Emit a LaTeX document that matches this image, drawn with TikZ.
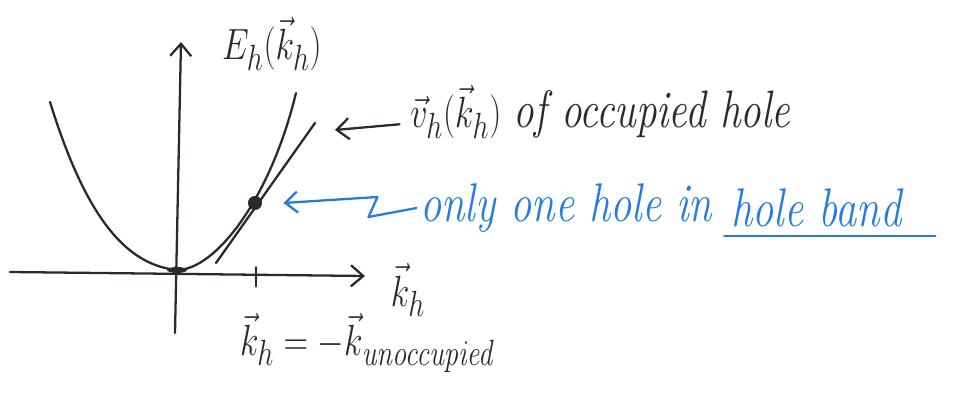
\documentclass[tikz,border=0pt]{standalone}
\usetikzlibrary{positioning,arrows.meta}
\definecolor{penblack}{RGB}{38,44,38}
\definecolor{penblue}{RGB}{35,125,225}
\tikzset{
  pen/.style={line width=1.3pt,draw=penblack,line cap=round,line join=round},
  bluepen/.style={line width=1.3pt,draw=penblue,line cap=round,line join=round},
  barb/.style={-{Straight Barb[length=7pt,width=12pt]}},
  label/.style={text=penblack,inner sep=0pt,xscale=.78,font=\fontsize{30}{33}\selectfont},
  bluelabel/.style={label,text=penblue,xscale=1.0,font=\fontsize{31}{34}\selectfont},
  dot/.style={circle,fill=penblack,inner sep=0pt,minimum size=8pt}
}
\begin{document}
\begin{tikzpicture}
  [x=0.02cm,y=-0.02cm]
\useasboundingbox (0,0) rectangle (958,404);
  % axes
  \coordinate (xl) at (10,272);
  \coordinate (xr) at (365,276);
  \coordinate (yb) at (175,333);
  \coordinate (yt) at (181,42);
  \coordinate (o) at (177,270);
  \coordinate (tick) at (256,276);
  \coordinate (tl) at (216,263);
  \coordinate (tr) at (315,123);
  \coordinate (vtip) at (335,130);

  \draw[pen,barb] (xl) -- (xr);
  \draw[pen,barb] (yb) -- (yt);
  \draw[pen] ([yshift=-6pt]tick) -- ([yshift=5pt]tick);

  % band and tangent
  \draw[pen] (50,102) .. controls (85,215) and (125,265) .. (o)
             .. controls (215,270) and (270,200) .. (296,93);
  \draw[pen] (tl) -- (tr);
  \node[dot] (hole) at (255,203) {};
  \fill[penblack] (o) ellipse [x radius=10, y radius=3];

  \node[label] (E) at (272,44) {$E_h(\vec k_h)$};
  \node[label] (k) at (408,290) {$\vec k_h$};
  \node[label] (kdef) at (368,343) {$\vec k_h=-\vec k_{\mathit{unoccupied}}$};
  \node[label,anchor=west] (v) at (410,112) {$\vec v_h(\vec k_h)$ \textit{of occupied hole}};
  \node[bluelabel,anchor=west] (only) at (420,208) {\textit{only one hole in}};
  \node[bluelabel,right=10pt of only] (band) {\textit{hole band}};

  \draw[pen,barb] ([xshift=-6pt,yshift=-7pt]v.west) -- (vtip);
  \draw[bluepen,barb] ([xshift=-2pt]only.west) -- ++(-48,9) -- ++(9,-20) -- ([xshift=12pt]hole.east);
  \draw[bluepen] ([xshift=-4pt,yshift=-5pt]band.south west) -- ([xshift=18pt,yshift=-5pt]band.south east);
\end{tikzpicture}
\end{document}
